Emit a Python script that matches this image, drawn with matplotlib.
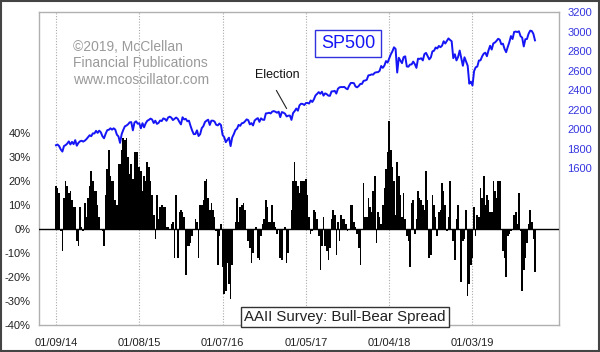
import numpy as np
import pandas as pd
import matplotlib
matplotlib.use("Agg")
import matplotlib.pyplot as plt
import matplotlib.dates as mdates
from matplotlib.patches import Rectangle

plt.rcParams['font.family'] = ['Liberation Sans', 'DejaVu Sans']

# weekly AAII bull-bear spread (%), starting 01/09/14
spread = [
    18, 17, 15, -1, -9, 13, 20, 18, 15, 16,
    12, 9, 9, -5, -7, 9, 1, -1, 11, 5,
    13, 18, 24, 20, 16, 16, 10, 5, 0, -1,
    -7, 14, 25, 33, 22, 20, 20, 12, 10, 27,
    27, 33, 38, 37, 38, 30, 23, 27, 21, 32,
    32, 32, 26, 24, 16, 22, 20, 28, 26, 20,
    14, 6, -4, 14, 4, 9, 10, 9, 9, 1,
    1, 0, 2, 3, -12, 14, -12, 7, 8, 7,
    5, -19, -7, -7, -6, -3, 0, 4, 3, -12,
    10, 10, 12, 20, 21, 13, 8, 11, 8, 5,
    -1, -15, -3, 2, -16, -27, -26, -14, -23, -29,
    -15, 0, 3, 13, 3, 9, 10, 11, 8, 0,
    -5, -8, -14, -10, 0, 1, -12, -13, -3, 2,
    4, 12, 9, 3, 3, 10, 3, 1, -2, 0,
    -12, -13, 0, 1, -14, -10, 0, 8, 20, 28,
    20, 18, 15, 20, 20, 20, 21, 14, 5, -2,
    -1, 8, 7, 4, -3, -17, -7, 5, -7, -9,
    -13, -8, 4, 8, 6, -11, 3, -5, 6, 4,
    4, 2, -1, 0, 10, 10, 3, 1, -2, -8,
    -15, 0, 19, 5, 5, 13, 9, 7, 16, 22,
    -6, 7, 5, 2, 10, 17, 25, 32, 45, 33,
    26, 20, 6, 28, 22, 14, 5, 15, 4, -3,
    -5, -16, 11, 12, -2, 4, 16, 13, 12, 10,
    8, 24, 12, -12, -11, 14, 10, 5, -3, 7,
    8, 19, 16, 10, -1, 5, 20, 0, -5, -13,
    4, 10, 0, -22, -5, -4, 8, -28, -23, -15,
    -12, 9, -3, 6, 5, 17, 13, 22, 10, 14,
    12, 7, 7, 20, 16, 13, 20, 20, 0, -9,
    -12, -20, -3, -2, -1, 0, 6, 7, 2, 15,
    -1, -26, -17, -12, -6, 2, 8, 3, -4, -18,
]

# weekly SP500 closes
sp500 = [
    # 2014
    1838, 1845, 1828, 1794, 1773, 1830, 1839, 1854, 1877, 1846, 1872, 1849,
    1890, 1833, 1862, 1878, 1884, 1875, 1885, 1900, 1920, 1940, 1930, 1959,
    1958, 1985, 1964, 1987, 1970, 1930, 1909, 1955, 1992, 1996, 2011, 1997,
    2011, 1998, 1946, 1928, 1862, 1951, 1994, 2031, 2039, 2052, 2072, 2074,
    1990, 2070, 2082, 2058,
    # 2015
    2062, 2011, 2063, 2021, 2062, 2088, 2097, 2110, 2101, 2065, 2089, 2056,
    2066, 2091, 2085, 2112, 2106, 2088, 2121, 2130, 2120, 2095, 2108, 2121,
    2108, 2077, 2051, 2124, 2102, 2108, 2083, 2089, 2035, 1988, 1951, 1952,
    1990, 1932, 1951, 2013, 2033, 2075, 2089, 2099, 2045, 2089, 2089, 2080,
    2047, 2041, 2060, 2044,
    # 2016
    1943, 1921, 1869, 1893, 1915, 1829, 1917, 1951, 1993, 2007, 2046, 2036,
    2063, 2066, 2082, 2102, 2095, 2051, 2064, 2040, 2090, 2105, 2115, 2077,
    2113, 2099, 2097, 2163, 2165, 2170, 2163, 2182, 2187, 2180, 2170, 2181,
    2125, 2177, 2171, 2160, 2132, 2140, 2141, 2097, 2167, 2187, 2213, 2191,
    2246, 2262, 2260, 2249,
    # 2017
    2269, 2271, 2264, 2296, 2280, 2307, 2347, 2363, 2381, 2364, 2385, 2345,
    2368, 2360, 2345, 2343, 2388, 2389, 2394, 2366, 2415, 2430, 2433, 2432,
    2434, 2419, 2410, 2447, 2474, 2475, 2472, 2438, 2430, 2444, 2465, 2465,
    2496, 2500, 2507, 2552, 2555, 2562, 2560, 2579, 2584, 2585, 2598, 2648,
    2629, 2652, 2698, 2683,
    # 2018
    2724, 2767, 2798, 2839, 2822, 2581, 2732, 2703, 2677, 2739, 2747, 2643,
    2641, 2663, 2664, 2693, 2667, 2629, 2723, 2720, 2727, 2705, 2770, 2782,
    2749, 2716, 2736, 2798, 2804, 2837, 2827, 2853, 2840, 2856, 2901, 2878,
    2904, 2930, 2914, 2901, 2728, 2768, 2705, 2740, 2806, 2730, 2650, 2737,
    2695, 2650, 2467, 2488,
    # 2019
    2448, 2596, 2635, 2642, 2704, 2706, 2746, 2774, 2784, 2748, 2808, 2855,
    2816, 2879, 2888, 2905, 2926, 2917, 2870, 2876, 2823, 2789, 2843, 2891,
    2954, 2924, 2996, 3000, 2995, 3003, 2953, 2938, 2848, 2922, 2924, 2977,
    3009, 3006, 2977, 2910,
]

dates = pd.date_range("2014-01-09", periods=len(sp500), freq="7D")
tick_dates = pd.to_datetime(["2014-01-09", "2015-01-08", "2016-01-07",
                             "2017-01-05", "2018-01-04", "2019-01-03"])
pct_ticks = list(range(-40, 41, 10))
sp_ticks = list(range(1600, 3201, 200))

fig = plt.figure(figsize=(6, 3.52), dpi=100)
ax = fig.add_axes([39 / 600, 27 / 352, 520 / 600, 313 / 352])

ax.bar(dates, spread, width=7, color="black", edgecolor="none", zorder=2)
ax.axhline(0, color="black", lw=1, zorder=3)
ax.set_ylim(-40, 90.4)
ax.set_xlim(dates[0] - pd.Timedelta(weeks=10.6), dates[0] + pd.Timedelta(weeks=314))
ax.set_yticks(pct_ticks)
ax.set_yticklabels([f"{v}%" for v in pct_ticks], fontsize=8, color="#222222")
ax.set_xticks(tick_dates)
ax.xaxis.set_major_formatter(mdates.DateFormatter("%m/%d/%y"))
ax.tick_params(axis="x", length=0, pad=9, labelsize=8, labelcolor="#222222")
ax.tick_params(axis="y", length=0, pad=6)
ax.grid(axis="x", color="#aaaaaa", ls=(0, (1, 1.5)), lw=0.8, zorder=1)
for s in ax.spines.values():
    s.set_color("#b0b0b0")
    s.set_linewidth(1)

ax2 = ax.twinx()
ax2.plot(dates, sp500, color="#1515f5", lw=1.4, zorder=4)
ax2.set_ylim(0, 3200)
ax2.set_yticks(sp_ticks)
ax2.set_yticklabels([str(v) for v in sp_ticks], fontsize=8, color="#3535e0")
ax2.tick_params(axis="y", length=0, pad=6)
for s in ax2.spines.values():
    s.set_visible(False)

fig.text(73 / 600, 1 - 47 / 352, "©2019, McClellan", fontsize=10, color="#9a9a9a", va="center")
fig.text(73 / 600, 1 - 63 / 352, "Financial Publications", fontsize=10, color="#9a9a9a", va="center")
fig.text(73 / 600, 1 - 80 / 352, "www.mcoscillator.com", fontsize=10, color="#9a9a9a", va="center")

fig.text(348 / 600, 1 - 43.5 / 352, "SP500", fontsize=13, color="#1515f5", ha="center", va="center",
         bbox=dict(boxstyle="square,pad=0.3", fc="white", ec="#3030e0", lw=1))

fig.text(277 / 600, 1 - 75 / 352, "Election", fontsize=9, color="#111111", ha="center", va="center")
ax.annotate("", xy=(288 / 600, 1 - 111 / 352), xytext=(275 / 600, 1 - 88 / 352),
            xycoords="figure fraction", textcoords="figure fraction",
            arrowprops=dict(arrowstyle="-", color="#222222", lw=0.8))

fig.text(345 / 600, 1 - 317 / 352, "AAII Survey: Bull-Bear Spread", fontsize=10.8, color="#222222",
         ha="center", va="center",
         bbox=dict(boxstyle="square,pad=0.22", fc="white", ec="#333333", lw=1))

fig.patches.append(Rectangle((0.002, 0.003), 0.996, 0.994, transform=fig.transFigure,
                             fill=False, ec="#444444", lw=1.5))

fig.savefig("out.png", dpi=100)
